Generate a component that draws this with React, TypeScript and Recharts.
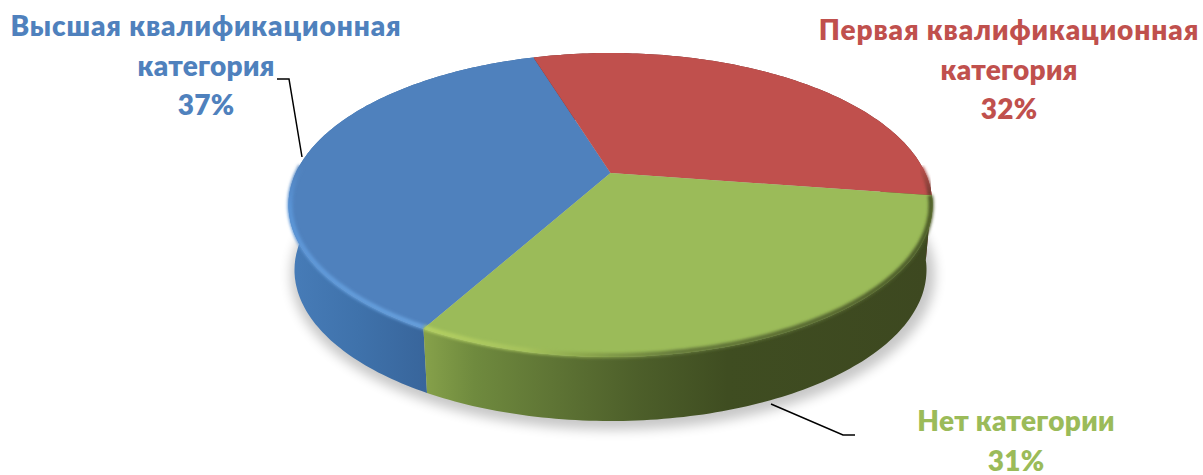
import React from 'react';
import { PieChart, Pie } from 'recharts';

const categories = ['Высшая квалификационная категория', 'Первая квалификационная категория', 'Нет категории'];
const shares = [37.2, 32.1, 30.7];
const labelLines = [
  ['Высшая квалификационная', 'категория'],
  ['Первая квалификационная', 'категория'],
  ['Нет категории'],
];

const COLORS = ['#4f81bd', '#c0504d', '#9bbb59'];
const WALLS = ['url(#wallBlue)', '#6e2a28', 'url(#wallGreen)'];
const RIMS = ['url(#rimBlue)', 'url(#rimRed)', 'url(#rimGreen)'];

// label anchors: centre x, first baseline
const LABEL_POS = [
  { x: 206, y: 36 },
  { x: 1009, y: 40 },
  { x: 1016, y: 431 },
];
const LEADERS = [
  '277,79 289,79 302,157',
  '',
  '771,404 843,435 855,435',
];

const CX = 610.5;
const CY = 205;
const RX = 322;
const RY = 152;
const BOTTOM = { cx: 610.5, cy: 270, rx: 316, ry: 151 };
const TILT = 0.21; // perspective: how far the apex sits above the ellipse centre

const rows = categories.map((name, i) => ({
  name,
  value: shares[i],
  fill: COLORS[i],
  wall: WALLS[i],
  rim: RIMS[i],
}));

// circle angle -> point on the tilted ellipse
const project = (deg: number, e: { cx: number; cy: number; rx: number; ry: number }) => {
  const t = (deg * Math.PI) / 180;
  const d = 1 + TILT * Math.sin(t);
  const u = (Math.cos(t) * Math.sqrt(1 - TILT * TILT)) / d;
  const v = (Math.sin(t) + TILT) / d;
  return [e.cx + e.rx * u, e.cy - e.ry * v];
};

const arc = (a0: number, a1: number, e: any) => {
  const n = Math.max(4, Math.ceil(Math.abs(a1 - a0)));
  const pts: number[][] = [];
  for (let i = 0; i <= n; i++) pts.push(project(a0 + ((a1 - a0) * i) / n, e));
  return pts;
};

const toPath = (pts: number[][]) => pts.map((p, i) => `${i ? 'L' : 'M'}${p[0].toFixed(1)} ${p[1].toFixed(1)}`).join(' ');

const Wall = (props: any) => {
  const { cx, cy, outerRadius, startAngle, endAngle } = props;
  const top = arc(startAngle, endAngle, { cx, cy, rx: outerRadius, ry: RY });
  const bottom = arc(endAngle, startAngle, BOTTOM);
  return <path d={`${toPath(top)} ${toPath(bottom).replace('M', 'L')} Z`} fill={props.wall} />;
};

const Top = (props: any) => {
  const { cx, cy, outerRadius, startAngle, endAngle, fill, rim } = props;
  const e = { cx, cy, rx: outerRadius, ry: RY };
  const outline = arc(startAngle, endAngle, e);
  const apex = project(0, { cx, cy, rx: 0, ry: RY });
  const inner = { cx, cy, rx: outerRadius - 1.5, ry: RY - 1.5 };
  const rimPts = arc(startAngle, endAngle, inner).filter((p) => p[1] > 165);
  return (
    <g>
      <path d={`M${apex[0]} ${apex[1]} ${toPath(outline).replace('M', 'L')} Z`} fill={fill} />
      <path d={toPath(rimPts)} fill="none" stroke={rim} strokeWidth={5} filter="url(#soft)" />
    </g>
  );
};

const renderLabel = (props: any) => {
  const i = rows.findIndex((r) => r.name === props.name);
  const pos = LABEL_POS[i];
  const lines = [...labelLines[i], `${Math.round(shares[i])}%`];
  return (
    <g key={props.name}>
      {LEADERS[i] && <polyline points={LEADERS[i]} fill="none" stroke="#000" strokeWidth={1.5} />}
      <text x={pos.x} textAnchor="middle" fill={COLORS[i]} fontFamily="Lato, 'Open Sans', sans-serif" fontWeight={800} fontSize={28}>
        {lines.map((line, k) => (
          <tspan key={k} x={pos.x} y={pos.y + k * 39.5} letterSpacing={line.length > 20 ? 0.9 : 0.25}>
            {line}
          </tspan>
        ))}
      </text>
    </g>
  );
};

export default function App() {
  return (
    <div style={{ position: 'absolute', left: 0, top: 0, background: '#fff' }}>
      <PieChart width={1203} height={475} margin={{ top: 0, right: 0, bottom: 0, left: 0 }}>
        <defs>
          <linearGradient id="wallBlue" gradientUnits="userSpaceOnUse" x1="289" y1="0" x2="427" y2="0">
            <stop offset="0" stopColor="#477cb8" />
            <stop offset="0.5" stopColor="#3f72ab" />
            <stop offset="1" stopColor="#38659b" />
          </linearGradient>
          <linearGradient id="wallGreen" gradientUnits="userSpaceOnUse" x1="424" y1="0" x2="930" y2="0">
            <stop offset="0" stopColor="#86a14a" />
            <stop offset="0.1" stopColor="#6f8a3e" />
            <stop offset="0.25" stopColor="#5f7535" />
            <stop offset="0.42" stopColor="#4d5f2a" />
            <stop offset="0.6" stopColor="#3f4d21" />
            <stop offset="1" stopColor="#3d4820" />
          </linearGradient>
          <linearGradient id="rimBlue" gradientUnits="userSpaceOnUse" x1="0" y1="165" x2="0" y2="330">
            <stop offset="0" stopColor="#4f81bd" />
            <stop offset="0.25" stopColor="#5a94d6" />
            <stop offset="1" stopColor="#669fdc" />
          </linearGradient>
          <linearGradient id="rimRed" gradientUnits="userSpaceOnUse" x1="0" y1="165" x2="0" y2="195">
            <stop offset="0" stopColor="#c0504d" />
            <stop offset="1" stopColor="#6e3a30" />
          </linearGradient>
          <linearGradient id="rimGreen" gradientUnits="userSpaceOnUse" x1="424" y1="0" x2="930" y2="0">
            <stop offset="0" stopColor="#b4d062" />
            <stop offset="0.2" stopColor="#a6c35c" />
            <stop offset="0.32" stopColor="#8aa54c" />
            <stop offset="0.5" stopColor="#64783a" />
            <stop offset="1" stopColor="#4b5a28" />
          </linearGradient>
          <filter id="soft" x="-5%" y="-5%" width="110%" height="110%">
            <feGaussianBlur stdDeviation="1.8" />
          </filter>
          <filter id="shadow" x="-5%" y="-10%" width="110%" height="120%">
            <feGaussianBlur stdDeviation="6" />
          </filter>
        </defs>
        <ellipse cx={613} cy={275} rx={322} ry={155} fill="#000" opacity={0.22} filter="url(#shadow)" />
        <Pie
          data={rows}
          dataKey="value"
          nameKey="name"
          cx={CX}
          cy={CY}
          innerRadius={0}
          outerRadius={RX}
          startAngle={241}
          endAngle={-119}
          stroke="none"
          shape={Wall}
          isAnimationActive={false}
        />
        <Pie
          data={rows}
          dataKey="value"
          nameKey="name"
          cx={CX}
          cy={CY}
          innerRadius={0}
          outerRadius={RX}
          startAngle={241}
          endAngle={-119}
          stroke="none"
          shape={Top}
          label={renderLabel}
          labelLine={false}
          isAnimationActive={false}
        />
      </PieChart>
    </div>
  );
}
